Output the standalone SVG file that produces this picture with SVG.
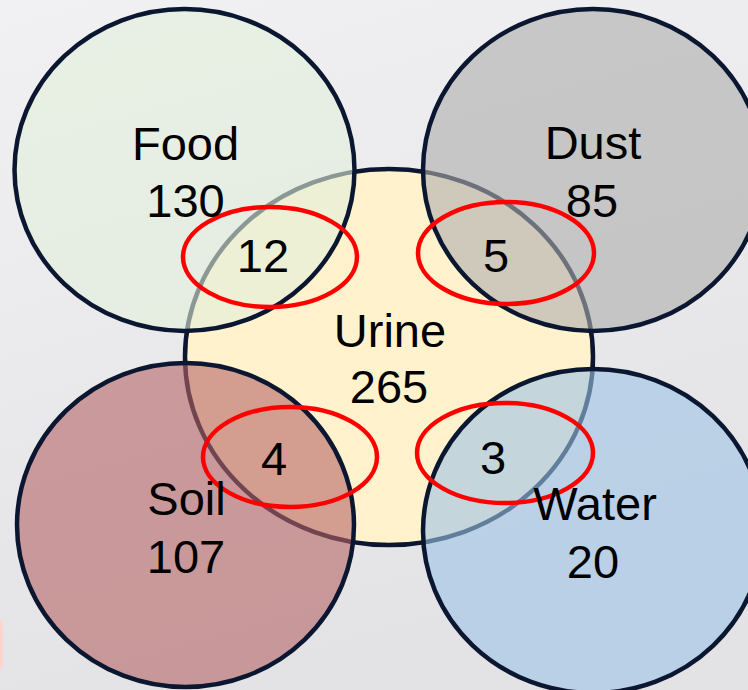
<svg xmlns="http://www.w3.org/2000/svg" width="748" height="690" viewBox="0 0 748 690">
<defs>
<linearGradient id="bg" x1="0" y1="0" x2="0.3" y2="1">
<stop offset="0" stop-color="#F1F1F3"/>
<stop offset="1" stop-color="#E3E3E5"/>
</linearGradient>
</defs>
<style>
.set{stroke:#0B1730;stroke-width:4.5}
.ring{fill:none;stroke:#FF0000;stroke-width:4.5}
text{font-family:"Liberation Sans",Arial,sans-serif;font-size:47px;fill:#000;text-anchor:middle}
</style>
<rect width="748" height="690" fill="url(#bg)"/>
<rect x="0" y="621" width="3" height="47" fill="#FFD3CE"/>
<g id="urine">
<ellipse class="set" cx="389" cy="357" rx="204" ry="188" fill="#FFF2CC"/>
</g>
<g id="food">
<ellipse class="set" cx="184.5" cy="170" rx="170" ry="161" fill="#E2EFDA" fill-opacity="0.6"/>
</g>
<g id="dust">
<ellipse class="set" cx="593" cy="170" rx="170" ry="161" fill="#ADADAD" fill-opacity="0.6"/>
</g>
<g id="soil">
<ellipse class="set" cx="185.5" cy="525" rx="168.5" ry="162" fill="#B66466" fill-opacity="0.6"/>
</g>
<g id="water">
<ellipse class="set" cx="593" cy="531" rx="170" ry="162" fill="#9DC3E6" fill-opacity="0.6"/>
</g>
<g id="rings">
<ellipse class="ring" cx="270" cy="257" rx="87" ry="50"/>
<ellipse class="ring" cx="506" cy="253" rx="88" ry="51"/>
<ellipse class="ring" cx="290" cy="457" rx="87" ry="50"/>
<ellipse class="ring" cx="505" cy="453" rx="88" ry="50"/>
</g>
<g id="labels">
<text x="185.5" y="160">Food</text>
<text x="185.5" y="217">130</text>
<text x="593" y="159">Dust</text>
<text x="592" y="217">85</text>
<text x="390" y="347">Urine</text>
<text x="389" y="403">265</text>
<text x="186.5" y="515">Soil</text>
<text x="186" y="573">107</text>
<text x="595" y="520">Water</text>
<text x="593" y="578">20</text>
<text x="263" y="272">12</text>
<text x="496" y="272">5</text>
<text x="274" y="475">4</text>
<text x="493" y="474">3</text>
</g>
</svg>
